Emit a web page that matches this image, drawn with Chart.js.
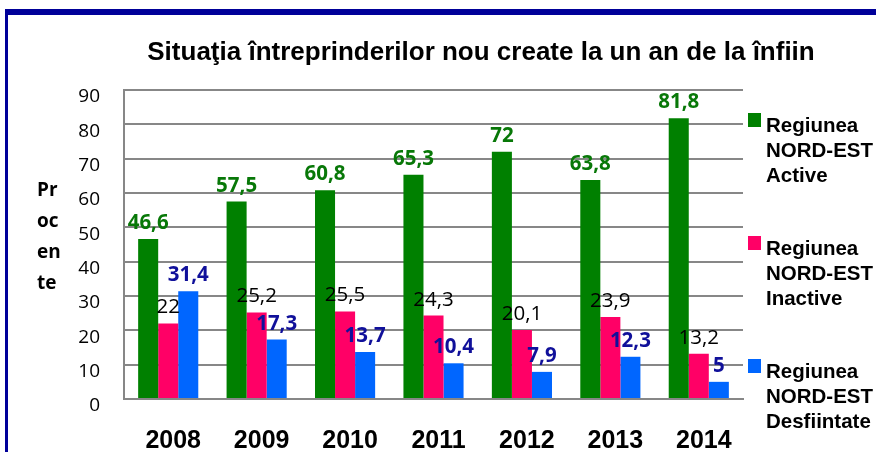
<!DOCTYPE html>
<html>
<head>
<meta charset="utf-8">
<script src="https://cdn.jsdelivr.net/npm/chart.js@4.4.0/dist/chart.umd.min.js"></script>
<style>
  html, body { margin: 0; padding: 0; background: #fff; }
  #wrap { width: 876px; height: 452px; }
</style>
</head>
<body>
<div id="wrap"><canvas id="chart" width="876" height="452"></canvas></div>
<script>
// data
const years = ['2008', '2009', '2010', '2011', '2012', '2013', '2014'];
const active = [46.6, 57.5, 60.8, 65.3, 72, 63.8, 81.8];
const inactive = [22, 25.2, 25.5, 24.3, 20.1, 23.9, 13.2];
const closed = [31.4, 17.3, 13.7, 10.4, 7.9, 12.3, 5];
const seriesNames = [
  ['Regiunea', 'NORD-EST', 'Active'],
  ['Regiunea', 'NORD-EST', 'Inactive'],
  ['Regiunea', 'NORD-EST', 'Desfiintate']
];
const yTitle = ['Pr', 'oc', 'en', 'te'];
const chartTitle = 'Situaţia întreprinderilor nou create la un an de la înfiin';

const colors = ['#008000', '#ff0066', '#0066ff'];
// label style per series: colour, weight
const labelStyles = [
  { color: '#087808', weight: 'bold' },
  { color: '#000000', weight: 'normal' },
  { color: '#10109a', weight: 'bold' }
];
const calibri = '"Open Sans", "Noto Sans", sans-serif';
const arial = '"Liberation Sans", Arial, sans-serif';

const fmt = (v) => String(v).replace('.', ',');

// white background + the dark blue frame
const framePlugin = {
  id: 'frame',
  beforeDraw(chart) {
    const ctx = chart.ctx;
    ctx.save();
    ctx.fillStyle = '#fff';
    ctx.fillRect(0, 0, chart.width, chart.height);
    ctx.fillStyle = '#000099';
    ctx.fillRect(5, 9, chart.width - 5, 6);
    ctx.fillRect(5, 9, 3, chart.height - 9);
    ctx.restore();
  }
};

// value labels above every bar
const barLabels = {
  id: 'barLabels',
  afterDatasetsDraw(chart) {
    const ctx = chart.ctx;
    ctx.save();
    ctx.textAlign = 'center';
    ctx.textBaseline = 'alphabetic';
    chart.data.datasets.forEach((ds, i) => {
      const meta = chart.getDatasetMeta(i);
      const st = labelStyles[i];
      ctx.fillStyle = st.color;
      ctx.font = st.weight + ' 20.5px ' + calibri;
      meta.data.forEach((bar, j) => {
        ctx.fillText(fmt(ds.data[j]), bar.x, bar.y - 10);
      });
    });
    ctx.restore();
  }
};

// title, y axis title and legend
const decorations = {
  id: 'decorations',
  afterDraw(chart) {
    const ctx = chart.ctx;
    ctx.save();
    ctx.fillStyle = '#000';

    // title
    ctx.font = 'bold 26px ' + arial;
    ctx.textAlign = 'center';
    ctx.textBaseline = 'alphabetic';
    ctx.fillText(chartTitle, 481, 60);

    // vertical title, broken in pieces
    ctx.font = 'bold 19px ' + calibri;
    ctx.textAlign = 'left';
    yTitle.forEach((t, i) => ctx.fillText(t, 37, 196 + i * 31));

    // legend
    ctx.font = 'bold 20.5px ' + arial;
    seriesNames.forEach((lines, i) => {
      const top = 113 + i * 123;
      ctx.fillStyle = colors[i];
      ctx.fillRect(748, top, 13, 14);
      ctx.fillStyle = '#000';
      lines.forEach((l, k) => ctx.fillText(l, 766, top + 19 + k * 25));
    });
    ctx.restore();
  }
};

const chartData = {
  labels: years,
  datasets: [
    { label: seriesNames[0].join(' '), data: active, backgroundColor: colors[0] },
    { label: seriesNames[1].join(' '), data: inactive, backgroundColor: colors[1] },
    { label: seriesNames[2].join(' '), data: closed, backgroundColor: colors[2] }
  ]
};

const config = {
  type: 'bar',
  data: chartData,
  options: {
    responsive: false,
    animation: false,
    layout: { padding: { top: 90, right: 133, bottom: 0, left: 0 } },
    datasets: {
      bar: { barPercentage: 1, categoryPercentage: 0.68 }
    },
    plugins: {
      legend: { display: false },
      title: { display: false },
      tooltip: { enabled: false }
    },
    scales: {
      x: {
        grid: { display: false },
        border: { display: true, color: '#878787', width: 2 },
        ticks: {
          color: '#000',
          font: { family: arial, size: 25, weight: 'bold' },
          padding: 19,
          labelOffset: 5,
          maxRotation: 0
        },
        afterFit(scale) { scale.height = 53; }
      },
      y: {
        min: 0,
        max: 90,
        ticks: {
          stepSize: 10,
          color: '#000',
          font: { family: calibri, size: 19 },
          padding: 24,
          labelOffset: 7
        },
        grid: { color: '#878787', lineWidth: 2, drawTicks: false },
        border: { display: true, color: '#878787', width: 2 },
        afterFit(scale) { scale.width = 124; }
      }
    }
  },
  plugins: [framePlugin, barLabels, decorations]
};

new Chart(document.getElementById('chart').getContext('2d'), config);
</script>
</body>
</html>
